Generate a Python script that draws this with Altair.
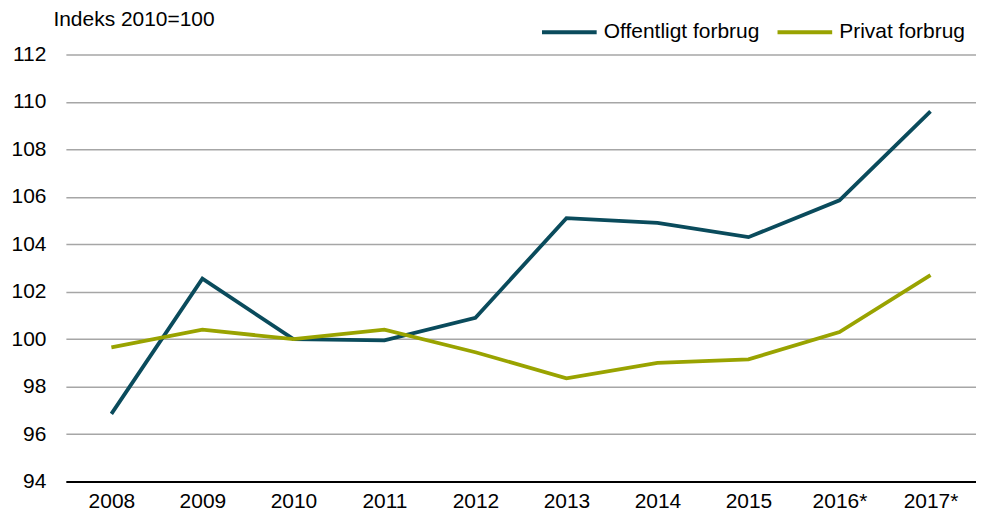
import altair as alt
import pandas as pd

years = ["2008", "2009", "2010", "2011", "2012", "2013", "2014", "2015", "2016*", "2017*"]
offentligt = [96.85, 102.55, 100.0, 99.95, 100.9, 105.1, 104.9, 104.3, 105.85, 109.6]
privat = [99.65, 100.4, 100.0, 100.4, 99.45, 98.35, 99.0, 99.15, 100.3, 102.7]
series = ["Offentligt forbrug", "Privat forbrug"]
colors = ["#0A4B5C", "#99A300"]

rows = []
for y, o, p in zip(years, offentligt, privat):
    rows.append({"år": y, "serie": series[0], "værdi": o})
    rows.append({"år": y, "serie": series[1], "værdi": p})
df = pd.DataFrame(rows)

FONT = "Liberation Sans"
FS = 21

chart = alt.Chart(df).mark_line(strokeWidth=3.8).encode(
    x=alt.X("år:N", sort=years, title=None,
            scale=alt.Scale(paddingInner=0, paddingOuter=0),
            axis=alt.Axis(labelAngle=0, ticks=False, domain=True, domainColor="#000000",
                          domainWidth=2, labelPadding=9, grid=False)),
    y=alt.Y("værdi:Q", title="Indeks 2010=100",
            scale=alt.Scale(domain=[94, 112], nice=False, zero=False),
            axis=alt.Axis(values=list(range(94, 113, 2)), ticks=False, domain=False,
                          gridColor="#a6a6a6", gridWidth=1.5, labelPadding=20,
                          titleAngle=0, titleAlign="left", titleBaseline="middle",
                          titleX=-13, titleY=-35, titleFontWeight="normal")),
    color=alt.Color("serie:N", sort=series,
                    scale=alt.Scale(domain=series, range=colors),
                    legend=alt.Legend(title=None, orient="none", direction="horizontal",
                                      legendX=475, legendY=-52, symbolType="stroke",
                                      symbolSize=3000, symbolStrokeWidth=4,
                                      labelOffset=5, columnPadding=9)),
).properties(
    width=912, height=428,
    autosize=alt.AutoSizeParams(type="none"),
    padding={"left": 58, "top": 46, "right": 0, "bottom": 32},
).configure_view(stroke=None).configure_axis(
    labelFont=FONT, labelFontSize=FS, labelColor="#000000",
    titleFont=FONT, titleFontSize=FS, titleColor="#000000",
).configure_legend(
    labelFont=FONT, labelFontSize=FS, labelColor="#000000",
)

chart.save("out.html", embed_options={"renderer": "svg", "actions": False})
